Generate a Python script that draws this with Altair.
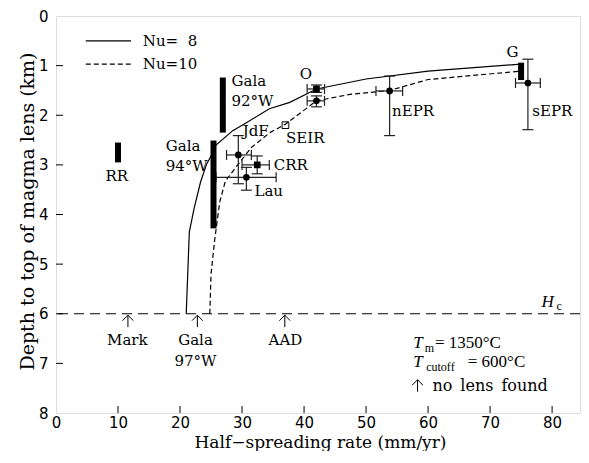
import altair as alt
import pandas as pd

W, H = 524, 397

# ---- model curves (depth to top of melt lens vs half-spreading rate)
nu8_rate = [21.0, 21.5, 22.3, 23.3, 24.3, 25.0, 25.8, 28.5, 30.7, 34.4, 37.7, 42.0, 50.0, 60.0, 75.0]
nu8_depth = [6.0, 4.35, 3.86, 3.35, 2.98, 2.82, 2.60, 2.31, 2.15, 1.87, 1.74, 1.47, 1.27, 1.11, 0.97]
nu10_rate = [24.8, 25.0, 25.6, 26.4, 27.3, 29.0, 31.5, 34.5, 37.0, 42.0, 47.4, 53.8, 60.0, 75.0]
nu10_depth = [6.0, 5.2, 4.5, 3.75, 3.33, 3.05, 2.65, 2.35, 2.18, 1.71, 1.58, 1.50, 1.28, 1.11]

# ---- observations with error bars
site_name = ["JdF", "CRR", "Lau", "O", "O", "nEPR", "sEPR"]
site_rate = [29.4, 32.45, 30.7, 42.0, 42.0, 53.8, 76.1]
site_depth = [2.80, 3.00, 3.25, 1.47, 1.71, 1.51, 1.35]
site_rate_lo = [27.5, 30.0, 25.8, 40.5, 40.5, 51.6, 74.1]
site_rate_hi = [31.5, 34.4, 35.5, 43.3, 43.3, 55.9, 78.1]
site_depth_lo = [2.41, 2.82, 3.05, 1.39, 1.61, 1.21, 0.87]
site_depth_hi = [3.38, 3.18, 3.51, 1.54, 1.83, 2.41, 2.29]
site_shape = ["circle", "square", "circle", "square", "circle", "circle", "circle"]

# open square (SEIR)
seir_rate = [37.0]
seir_depth = [2.2]

# ---- depth ranges (thick bars)
range_name = ["RR", "Gala 92W", "Gala 94W", "G"]
range_rate = [10.0, 26.9, 25.4, 75.0]
range_top = [2.55, 1.24, 2.51, 0.94]
range_bot = [2.95, 2.35, 4.28, 1.29]

# ---- no lens found
nolens_name = ["Mark", "Gala 97W", "AAD"]
nolens_rate = [11.6, 22.8, 36.9]
hc_depth = 6.0

# ---- text labels
left_text = ["Gala", "92°W", "Gala", "94°W", "JdF", "CRR", "Lau", "SEIR", "nEPR", "sEPR",
             "Nu=\u20078", "Nu=10"]
left_x = [28.3, 28.3, 17.7, 17.7, 30.1, 35.1, 32.0, 37.1, 54.2, 76.8, 14.0, 14.0]
left_y = [1.30, 1.72, 2.61, 3.03, 2.31, 3.00, 3.52, 2.46, 1.91, 1.91, 0.50, 0.97]
center_text = ["RR", "O", "G", "Mark", "Gala", "97°W", "AAD"]
center_x = [9.8, 40.3, 73.6, 11.5, 22.5, 22.5, 37.0]
center_y = [3.22, 1.17, 0.72, 6.52, 6.52, 6.96, 6.52]
key_text = ["no\u2002lens\u2002found"]
key_x = [60.7]
key_y = [7.45]

x_ticks = [10, 20, 30, 40, 50, 60, 70, 80]
y_ticks = [1, 2, 3, 4, 5, 6, 7]

xs = alt.Scale(domain=[0, 84.5], nice=False, zero=False)
ys = alt.Scale(domain=[0, 8], reverse=True, nice=False, zero=False)
xax = alt.Axis(values=[0, 10, 20, 30, 40, 50, 60, 70, 80], title="Half\u2212spreading rate (mm/yr)",
               domain=False, ticks=False, grid=False, labelFlush=False, labelOverlap=False,
               labelFont="DejaVu Sans", labelFontSize=15, labelColor="black", labelPadding=2,
               titleFont="DejaVu Serif", titleFontSize=17, titleFontWeight="normal",
               titleColor="black", titleX=264, titleY=34, titleAlign="center",
               titleBaseline="alphabetic")
yax = alt.Axis(values=[0, 1, 2, 3, 4, 5, 6, 7, 8], title="Depth to top of magma lens (km)",
               domain=False, ticks=False, grid=False, labelFlush=False, labelOverlap=False,
               labelFont="DejaVu Sans", labelFontSize=15, labelColor="black", labelPadding=8,
               titleFont="DejaVu Serif", titleFontSize=19, titleFontWeight="normal",
               titleColor="black", titleX=-23, titleY=195, titleAngle=270, titleAlign="center",
               titleBaseline="alphabetic")


def X(f):
    return alt.X(f, type="quantitative", scale=xs, axis=xax)


def Y(f):
    return alt.Y(f, type="quantitative", scale=ys, axis=yax)


curves8 = pd.DataFrame({"rate": nu8_rate, "depth": nu8_depth, "i": range(len(nu8_rate))})
curves10 = pd.DataFrame({"rate": nu10_rate, "depth": nu10_depth, "i": range(len(nu10_rate))})
sites = pd.DataFrame({"name": site_name, "rate": site_rate, "depth": site_depth,
                      "rlo": site_rate_lo, "rhi": site_rate_hi,
                      "dlo": site_depth_lo, "dhi": site_depth_hi, "shape": site_shape})
seir = pd.DataFrame({"rate": seir_rate, "depth": seir_depth})
ranges = pd.DataFrame({"name": range_name, "rate": range_rate, "top": range_top, "bot": range_bot})
nolens = pd.DataFrame({"name": nolens_name, "rate": nolens_rate,
                       "tip": [hc_depth + 0.03] * 3, "tail": [hc_depth + 0.27] * 3})
legend_arrow = pd.DataFrame({"rate": [58.3], "tip": [7.33], "tail": [7.57]})
legend_lines = pd.DataFrame({"x0": [4.8, 4.8], "x1": [12.1, 12.1], "d": [0.50, 0.97],
                             "k": ["Nu=8", "Nu=10"]})
ltext = pd.DataFrame({"t": left_text, "x": left_x, "y": left_y})
ctext = pd.DataFrame({"t": center_text, "x": center_x, "y": center_y})
ktext = pd.DataFrame({"t": key_text, "x": key_x, "y": key_y})
xt = pd.DataFrame({"v": x_ticks})
yt = pd.DataFrame({"v": y_ticks})

layers = []
# inward ticks
layers.append(alt.Chart(xt).mark_rule(color="black", strokeWidth=1).encode(
    x=X("v"), y=alt.value(H), y2=alt.value(H - 7)))
layers.append(alt.Chart(yt).mark_rule(color="black", strokeWidth=1).encode(
    y=Y("v"), x=alt.value(0), x2=alt.value(7)))
# H_c line
layers.append(alt.Chart(pd.DataFrame({"d": [hc_depth]})).mark_rule(
    color="black", strokeWidth=1.2, strokeDash=[10, 6]).encode(y=Y("d")))
# curves
layers.append(alt.Chart(curves8).mark_line(color="black", strokeWidth=1.2).encode(
    x=X("rate"), y=Y("depth"), order="i:Q"))
layers.append(alt.Chart(curves10).mark_line(color="black", strokeWidth=1.2, strokeDash=[5, 3]).encode(
    x=X("rate"), y=Y("depth"), order="i:Q"))
# legend lines
layers.append(alt.Chart(legend_lines[legend_lines.k == "Nu=8"]).mark_rule(
    color="black", strokeWidth=1.2).encode(x=X("x0"), x2="x1:Q", y=Y("d")))
layers.append(alt.Chart(legend_lines[legend_lines.k == "Nu=10"]).mark_rule(
    color="black", strokeWidth=1.2, strokeDash=[5, 3]).encode(x=X("x0"), x2="x1:Q", y=Y("d")))
# error bars
eb = alt.Chart(sites)
layers.append(eb.mark_rule(color="#222", strokeWidth=1.2).encode(x=X("rate"), y=Y("dlo"), y2="dhi:Q"))
layers.append(eb.mark_rule(color="#222", strokeWidth=1.2).encode(x=X("rlo"), x2="rhi:Q", y=Y("depth")))
for f in ["dlo", "dhi"]:
    layers.append(eb.mark_rule(color="#222", strokeWidth=1.2, xOffset=-5.5, x2Offset=5.5).encode(
        x=X("rate"), x2="rate:Q", y=Y(f)))
for f in ["rlo", "rhi"]:
    layers.append(eb.mark_rule(color="#222", strokeWidth=1.2, yOffset=-5, y2Offset=5).encode(
        y=Y("depth"), y2="depth:Q", x=X(f)))
layers.append(alt.Chart(sites[sites["shape"] == "circle"]).mark_point(
    shape="circle", filled=True, color="black", size=45, opacity=1).encode(x=X("rate"), y=Y("depth")))
layers.append(alt.Chart(sites[sites["shape"] == "square"]).mark_point(
    shape="square", filled=True, color="black", size=45, opacity=1).encode(x=X("rate"), y=Y("depth")))
layers.append(alt.Chart(seir).mark_point(
    shape="square", filled=False, color="black", size=45, strokeWidth=1, opacity=1).encode(
    x=X("rate"), y=Y("depth")))
# depth ranges
layers.append(alt.Chart(ranges).mark_rule(color="black", strokeWidth=6).encode(
    x=X("rate"), y=Y("top"), y2="bot:Q"))
# no-lens arrows
chev = "M -1 1 L 0 0 L 1 1"
for df in [nolens, legend_arrow]:
    layers.append(alt.Chart(df).mark_rule(color="black", strokeWidth=1).encode(
        x=X("rate"), y=Y("tip"), y2="tail:Q"))
    layers.append(alt.Chart(df).mark_point(shape=chev, filled=False, color="black", size=120,
                                           strokeWidth=1, opacity=1).encode(x=X("rate"), y=Y("tip")))
# labels
layers.append(alt.Chart(ltext).mark_text(align="left", baseline="middle", font="DejaVu Serif",
                                         fontSize=15, color="black").encode(
    x=X("x"), y=Y("y"), text="t:N"))
layers.append(alt.Chart(ctext).mark_text(align="center", baseline="middle", font="DejaVu Serif",
                                         fontSize=15, color="black").encode(
    x=X("x"), y=Y("y"), text="t:N"))
layers.append(alt.Chart(ktext).mark_text(align="left", baseline="middle", font="DejaVu Serif",
                                         fontSize=16, color="black").encode(
    x=X("x"), y=Y("y"), text="t:N"))
# parameter text (Times-like, with subscripts)
math_ital = pd.DataFrame({"t": ["T", "T", "H"], "x": [57.6, 57.6, 78.3], "y": [6.70, 7.07, 5.86]})
math_rest = pd.DataFrame({"t": ["= 1350°C", "= 600°C"], "x": [61.1, 66.4], "y": [6.70, 7.07]})
math_sub = pd.DataFrame({"t": ["m", "cutoff", "c"], "x": [59.45, 59.7, 80.7], "y": [6.77, 7.15, 5.93]})
layers.append(alt.Chart(math_ital).mark_text(align="left", baseline="alphabetic", font="Liberation Serif",
                                             fontSize=17, fontStyle="italic", color="black").encode(
    x=X("x"), y=Y("y"), text="t:N"))
layers.append(alt.Chart(math_rest).mark_text(align="left", baseline="alphabetic", font="Liberation Serif",
                                             fontSize=17, color="black").encode(
    x=X("x"), y=Y("y"), text="t:N"))
layers.append(alt.Chart(math_sub).mark_text(align="left", baseline="alphabetic", font="Liberation Serif",
                                            fontSize=12, color="black").encode(
    x=X("x"), y=Y("y"), text="t:N"))

chart = alt.layer(*layers).properties(
    width=W, height=H,
    padding={"left": 48, "top": 8, "right": 1, "bottom": 38},
    autosize=alt.AutoSizeParams(type="none"),
).configure_view(stroke="black", strokeWidth=1.2).configure(background="white")

chart.save("out.html", embed_options={"renderer": "svg", "actions": False})
